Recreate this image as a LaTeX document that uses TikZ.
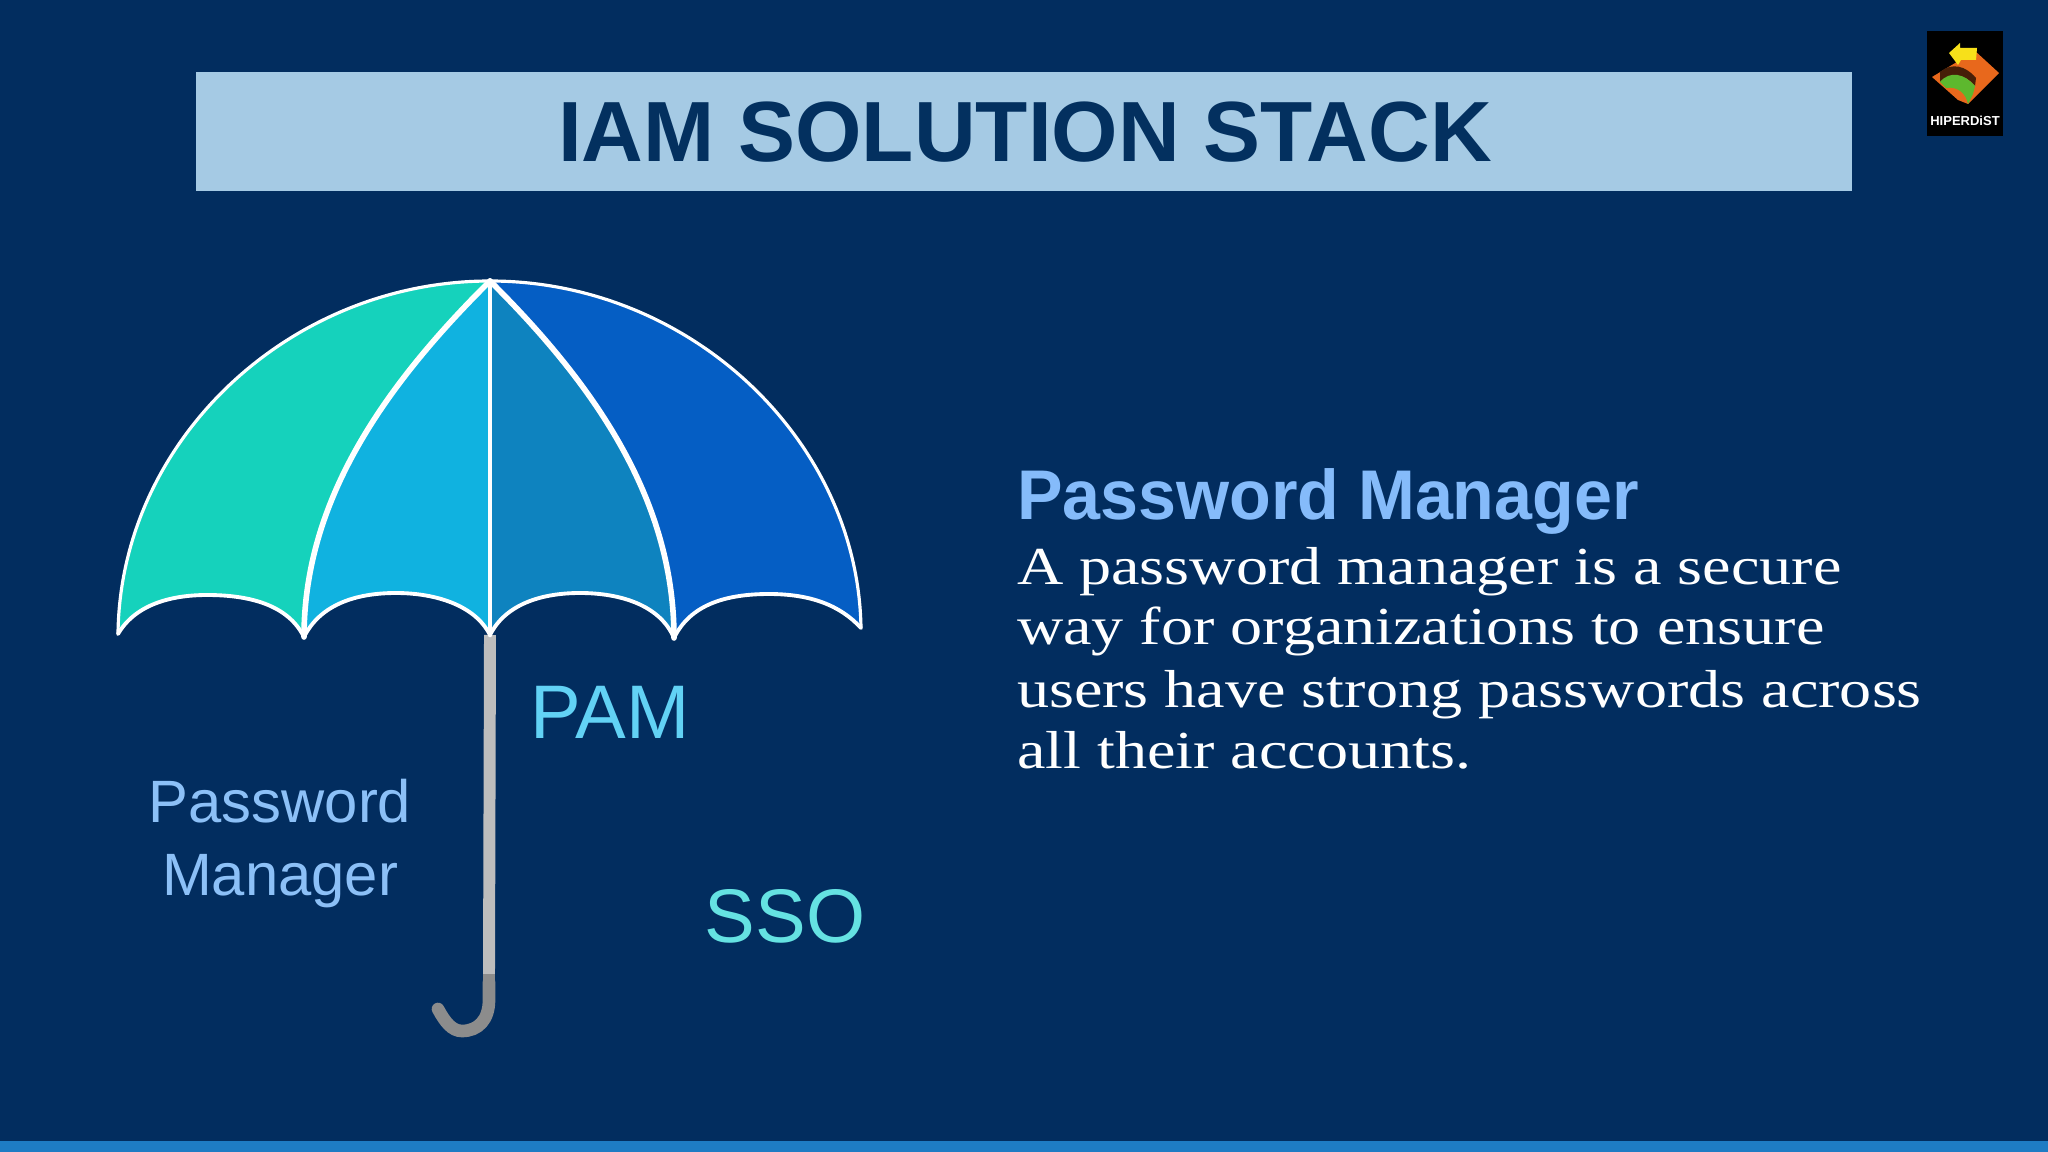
\documentclass[tikz,border=0pt]{standalone}
\usepackage{fontspec}
\setmainfont{Liberation Sans}
\newfontfamily\bodyfont[FakeStretch=1.2]{Liberation Serif}
\newfontfamily\headfont[FakeStretch=0.97]{Liberation Sans}
\usetikzlibrary{positioning}
\definecolor{slidebg}{HTML}{022D5F}
\definecolor{barblue}{HTML}{A5CAE4}
\definecolor{titleblue}{HTML}{03305F}
\definecolor{stripeblue}{HTML}{1E7CC4}
\definecolor{panelgreen}{HTML}{15D2BC}
\definecolor{panelcyan}{HTML}{10B2E0}
\definecolor{panelmid}{HTML}{0E83BF}
\definecolor{panelblue}{HTML}{055EC4}
\definecolor{headblue}{HTML}{85BBFA}
\definecolor{pamblue}{HTML}{62D2F5}
\definecolor{pwblue}{HTML}{8CC0F7}
\definecolor{ssoteal}{HTML}{65E2E2}
\definecolor{shaftgrey}{HTML}{BDBDBD}
\definecolor{handlegrey}{HTML}{8C8C8C}
\definecolor{logoorange}{HTML}{E8681C}
\definecolor{logoyellow}{HTML}{F7E01A}
\definecolor{logogreen}{HTML}{5DB82E}

\begin{document}
\begin{tikzpicture}[x=0.01cm,y=-0.01cm]
\tikzstyle{every node}=[inner sep=0pt,outer sep=0pt];
\tikzstyle{rib}=[draw=white,line join=round,line cap=round];
\tikzstyle{umbtext}=[anchor=base,font=\fontsize{21.6}{26}\selectfont];

  \useasboundingbox (0,0) rectangle (2048,1152);
  \fill [slidebg] (0,0) rectangle (2048,1152);
  \fill [stripeblue] (0,1141) rectangle (2048,1152);

  % title
  \node (bar) [fill=barblue,minimum width=16.55cm,minimum height=1.19cm] at (1023.5,131.5) {};
  \node (title) [anchor=base,text=titleblue,font=\fontsize{24.3}{29}\selectfont\bfseries] at (1025,162) {IAM SOLUTION STACK};

  % logo
  \node (logo) [fill=black,minimum width=0.76cm,minimum height=1.05cm] at (1965,83.5) {};
  \fill [logoorange] (1932,77) -- (1975,51) -- (1999,73) -- (1968,104) -- (1958,100) -- cycle;
  \fill [black!70!logoorange] (1940,72) .. controls (1952,62) and (1966,66) .. (1976,78) -- (1975,86) .. controls (1965,74) and (1952,72) .. (1940,82) -- cycle;
  \fill [logogreen] (1940,82) .. controls (1950,70) and (1965,74) .. (1975,86) -- (1973,94) -- (1968,104) .. controls (1966,94) and (1958,86) .. (1946,88) -- cycle;
  \fill [logoyellow] (1949,53) -- (1960,43) -- (1960,48) -- (1977,48) -- (1976,60) -- (1961,60) -- (1958,65) -- cycle;
  \node (logotext) [anchor=base,text=white,font=\fontsize{3.7}{4}\selectfont\bfseries] at (1965,126) {HIPERDiST};

  % umbrella
  \coordinate (apex) at (490,281);
  \coordinate (tipa) at (118,634);
  \coordinate (tipb) at (304,637);
  \coordinate (tipc) at (490,635);
  \coordinate (tipd) at (674,638);
  \coordinate (tipe) at (861,628);

  \draw [shaftgrey,line width=3.4pt] (tipc) -- (489,974) coordinate (shaftend);
  \draw [handlegrey,line width=3.6pt,line cap=round] (489,982) -- (489,1000) .. controls (489,1020) and (478,1031) .. (462,1031) .. controls (452,1031) and (445,1022) .. (438,1009);
  \fill [handlegrey] (482.6,974) rectangle (495.4,985);

  \fill [panelgreen] (apex) .. controls (290,281) and (120,440) .. (tipa)
     .. controls (135,605) and (170,595) .. (207,595) .. controls (250,595) and (288,605) .. (tipb)
     .. controls (304,500) and (385,385) .. (apex);
  \fill [panelcyan] (apex) .. controls (385,385) and (304,500) .. (tipb)
     .. controls (320,605) and (355,593) .. (396,593) .. controls (435,593) and (475,605) .. (tipc) -- cycle;
  \fill [panelmid] (apex) -- (tipc)
     .. controls (505,605) and (540,593) .. (580,593) .. controls (620,593) and (660,605) .. (tipd)
     .. controls (674,500) and (595,385) .. (apex);
  \fill [panelblue] (apex) .. controls (595,385) and (674,500) .. (tipd)
     .. controls (690,605) and (725,594) .. (769,594) .. controls (810,594) and (840,605) .. (tipe)
     .. controls (858,440) and (690,281) .. (apex);

  \draw [rib,line width=0.9pt] (tipa) .. controls (120,440) and (290,281) .. (apex) .. controls (690,281) and (858,440) .. (tipe);
  \draw [rib,line width=1.6pt] (apex) .. controls (385,385) and (304,500) .. (tipb);
  \draw [rib,line width=1.6pt] (apex) .. controls (595,385) and (674,500) .. (tipd);
  \draw [rib,line width=1.3pt] (apex) -- (tipc);
  \draw [rib,line width=1.1pt] (tipa) .. controls (135,605) and (170,595) .. (207,595) .. controls (250,595) and (288,605) .. (tipb)
     .. controls (320,605) and (355,593) .. (396,593) .. controls (435,593) and (475,605) .. (tipc)
     .. controls (505,605) and (540,593) .. (580,593) .. controls (620,593) and (660,605) .. (tipd)
     .. controls (690,605) and (725,594) .. (769,594) .. controls (810,594) and (840,605) .. (tipe);

  % labels
  \node (pam) [umbtext,text=pamblue] at (610,738) {PAM};
  \node (sso) [umbtext,text=ssoteal] at (785,942) {SSO};
  \node (pwone) [umbtext,text=pwblue,font=\fontsize{17}{20}\selectfont] at (280,822) {Password};
  \node (pwtwo) [umbtext,text=pwblue,font=\fontsize{17}{20}\selectfont] at (280,895) {Manager};

  % text on the right
  \node (head) [anchor=base west,text=headblue,font=\fontsize{20}{24}\headfont\bfseries] at (1017,520) {Password Manager};
  \foreach \name/\ypos/\words in {lineone/584/A password manager is a secure, linetwo/645/way for organizations to ensure, linethree/707/users have strong passwords across, linefour/768/all their accounts.}
    \node (\name) [anchor=base west,text=white,font=\fontsize{15.2}{18}\bodyfont] at (1017,\ypos) {\words};

\end{tikzpicture}
\end{document}
